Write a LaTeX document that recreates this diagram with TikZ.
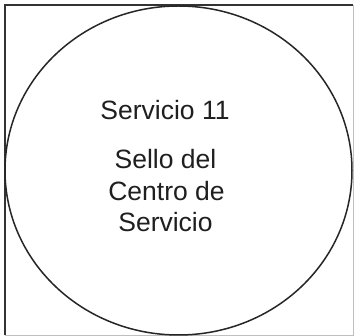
\documentclass[tikz,border=0pt]{standalone}
\usepackage{fontspec}
\setmainfont{Liberation Sans}
\begin{document}
\begin{tikzpicture}[x=1pt,y=-1pt,
  lbl/.style={anchor=base,inner sep=0pt,font=\fontsize{26.5}{31.5}\selectfont,text=black!88},
  edge/.style={line width=2pt,draw=black!80},
  faint/.style={line width=1.2pt,draw=black!25}]
\useasboundingbox[fill=white] (0,0) rectangle (354,336);
\coordinate (tl) at (4.5,5.5);
\coordinate (tr) at (353.2,5.5);
\coordinate (bl) at (4.5,335.3);
\coordinate (br) at (353.2,335.3);
\draw[faint] (tr) -- (br) -- (bl);
\draw[edge] (bl) -- (tl) -- (tr);
\draw[line width=1.5pt,draw=black!85] (178.5,170.5) ellipse [x radius=173.5, y radius=164.5];
\node[lbl] (t1) at (165,120) {Servicio 11};
\node[lbl] (t2) at (165.5,169) {Sello del};
\node[lbl] (t3) at (166.5,200.5) {Centro de};
\node[lbl] (t4) at (165.5,232) {Servicio};
\end{tikzpicture}
\end{document}
